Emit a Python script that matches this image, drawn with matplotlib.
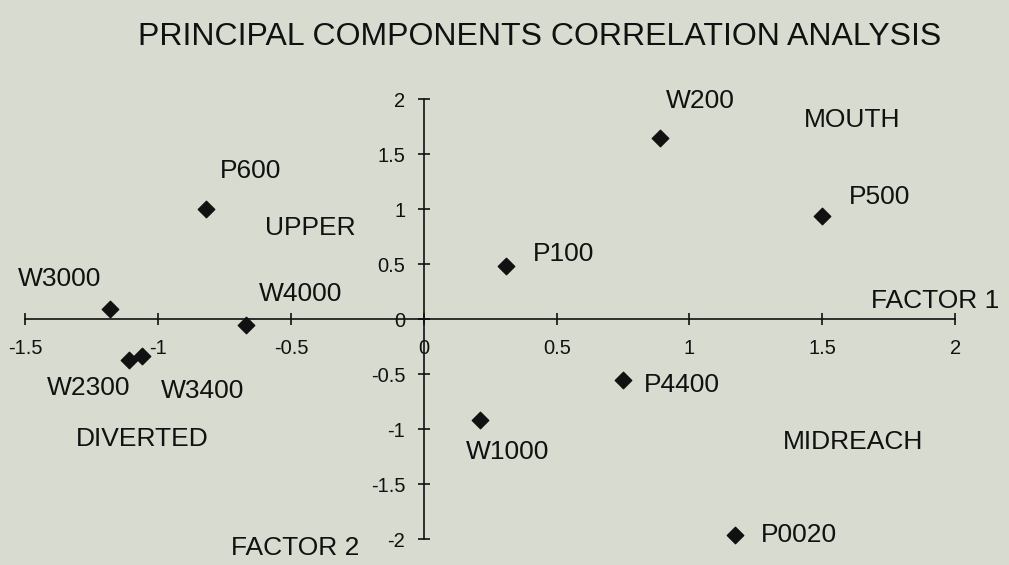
import numpy as np
import matplotlib
matplotlib.use('Agg')
import matplotlib.pyplot as plt

plt.rcParams['font.family'] = ['Liberation Sans', 'DejaVu Sans']

# Site scores on the first two principal components
sites = ['P600', 'W3000', 'W4000', 'W2300', 'W3400', 'W200', 'P500',
         'P100', 'P4400', 'W1000', 'P0020']
factor1 = [-0.82, -1.18, -0.67, -1.11, -1.06, 0.89, 1.50, 0.31, 0.75, 0.21, 1.17]
factor2 = [1.00, 0.09, -0.05, -0.37, -0.34, 1.65, 0.94, 0.48, -0.55, -0.92, -1.96]

# where each site label sits (data coords, left edge / middle)
label_xy = [(-0.77, 1.35), (-1.53, 0.36), (-0.62, 0.23), (-1.42, -0.63),
            (-0.99, -0.65), (0.91, 1.98), (1.60, 1.11), (0.41, 0.59),
            (0.83, -0.60), (0.16, -1.21), (1.27, -1.96)]

regions = ['UPPER', 'MOUTH', 'DIVERTED', 'MIDREACH']
region_xy = [(-0.60, 0.83), (1.43, 1.81), (-1.31, -1.09), (1.35, -1.12)]

xticks = [-1.5, -1, -0.5, 0, 0.5, 1, 1.5, 2]
yticks = [-2, -1.5, -1, -0.5, 0, 0.5, 1, 1.5, 2]

bg = '#d8dbcf'
fig = plt.figure(figsize=(10.09, 5.65), dpi=100, facecolor=bg)
ax = fig.add_axes([0, 0, 1, 1], facecolor=bg)

ax.set_xlim(-1.596, 2.203)
ax.set_ylim(-2.236, 2.9)

ax.scatter(factor1, factor2, marker='D', s=70, color='#111111', zorder=3)

lab = dict(fontsize=19, ha='left', va='center', color='#111111')
for name, (lx, ly) in zip(sites, label_xy):
    ax.text(lx, ly, name, **lab)
for name, (lx, ly) in zip(regions, region_xy):
    ax.text(lx, ly, name, **lab)

ax.text(1.683, 0.16, 'FACTOR 1', **lab)
ax.text(-0.727, -2.08, 'FACTOR 2', **lab)

# crossing axes through the origin
for side in ['top', 'right']:
    ax.spines[side].set_visible(False)
ax.spines['left'].set_position(('data', 0))
ax.spines['bottom'].set_position(('data', 0))
ax.spines['left'].set_bounds(-2, 2)
ax.spines['bottom'].set_bounds(-1.5, 2)
for side in ['left', 'bottom']:
    ax.spines[side].set_color('#111111')
    ax.spines[side].set_linewidth(1.2)

ax.set_xticks(xticks)
ax.set_yticks(yticks)
ax.set_xticklabels([f'{t:g}' for t in xticks])
ax.set_yticklabels([f'{t:g}' for t in yticks])
ax.tick_params(axis='x', direction='inout', length=9, width=1.2, pad=10,
               labelsize=14.5, colors='#111111')
ax.tick_params(axis='y', direction='inout', length=9, width=1.2, pad=9,
               labelsize=14.5, colors='#111111')

fig.text(0.535, 0.935, 'PRINCIPAL COMPONENTS CORRELATION ANALYSIS',
         fontsize=23, ha='center', va='center', color='#111111')

fig.savefig('out.png', dpi=100, facecolor=bg)
